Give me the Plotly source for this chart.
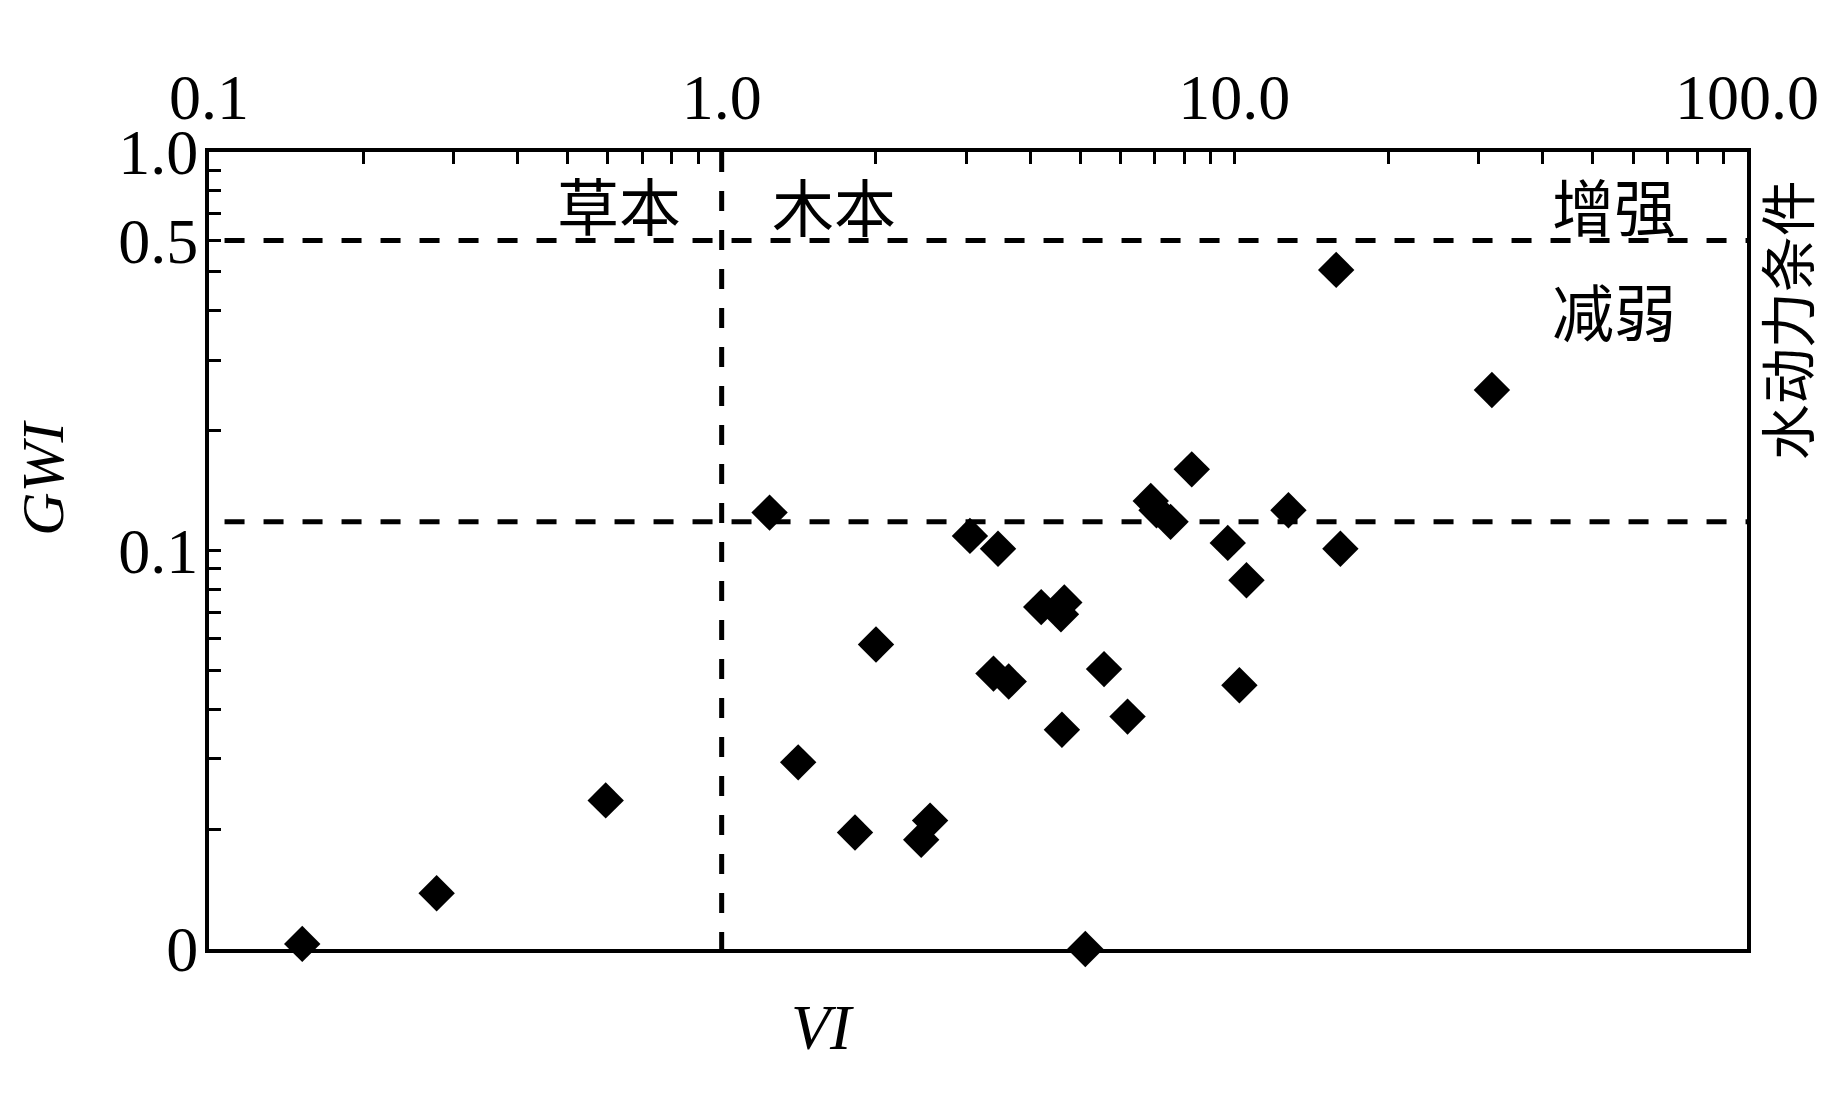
import plotly.graph_objects as go

# ---- data ----
vi = [0.152, 0.278, 0.594, 1.24, 1.41, 1.82, 2.00, 2.45, 2.55, 3.05, 3.46, 3.39, 3.63,
      4.20, 4.66, 4.59, 4.61, 5.12, 5.57, 6.19, 6.87, 7.05, 7.51, 8.26, 9.71, 10.23,
      10.56, 12.75, 15.8, 16.1, 31.8]
gwi = [0.0103, 0.0138, 0.0236, 0.1245, 0.0294, 0.0196, 0.0581, 0.0188, 0.0210, 0.1088,
       0.101, 0.0491, 0.0469, 0.0721, 0.0741, 0.0692, 0.0355, 0.0100, 0.0504, 0.0383,
       0.1331, 0.1262, 0.118, 0.1598, 0.1045, 0.0459, 0.0842, 0.1262, 0.506, 0.101, 0.2528]

# reference (threshold) lines
vi_divider = 1.0
gwi_upper = 0.6      # drawn line labelled "0.5" on the axis
gwi_lower = 0.118

x_tick_vals = [0.1, 1.0, 10.0, 100.0]
x_tick_text = ["0.1", "1.0", "10.0", "100.0"]
x_minor_vals = [m * d for d in (0.1, 1.0, 10.0) for m in range(2, 10)]

y_tick_vals = [0.01, 0.1, 0.6, 1.0]
y_tick_text = ["0", "0.1", "0.5", "1.0"]
y_minor_vals = [m * d for d in (0.01, 0.1) for m in range(2, 10)]

SERIF = "Liberation Serif, Times New Roman, serif"
CJK = "Noto Sans CJK SC"
DASH = "20px,19px"

fig = go.Figure()

# dashed reference lines
for xs, ys in (([0.09, 120], [gwi_upper, gwi_upper]),
               ([0.09, 120], [gwi_lower, gwi_lower]),
               ([vi_divider, vi_divider], [1.0, 0.01])):
    fig.add_trace(go.Scatter(x=xs, y=ys, mode="lines",
                             line=dict(color="black", width=5, dash=DASH),
                             hoverinfo="skip", showlegend=False))

# data points
fig.add_trace(go.Scatter(x=vi, y=gwi, mode="markers", cliponaxis=False,
                         marker=dict(symbol="diamond", size=28, color="black",
                                     line=dict(width=0)),
                         showlegend=False))

axis_common = dict(
    showline=True, linecolor="black", linewidth=4, mirror=True,
    showgrid=False, zeroline=False,
    ticks="inside", ticklen=12, tickwidth=3, tickcolor="black",
    tickfont=dict(family=SERIF, size=64, color="black"),
)

fig.update_xaxes(type="log", range=[-1, 2], side="top",
                 tickmode="array", tickvals=x_tick_vals, ticktext=x_tick_text,
                 ticklabelstandoff=3,
                 minor=dict(tickvals=x_minor_vals, ticks="inside", ticklen=12,
                            tickwidth=3, tickcolor="black", showgrid=False),
                 **axis_common)
fig.update_yaxes(type="log", range=[-2, 0],
                 tickmode="array", tickvals=y_tick_vals, ticktext=y_tick_text,
                 ticklabelstandoff=-6,
                 minor=dict(tickvals=y_minor_vals, ticks="inside", ticklen=12,
                            tickwidth=3, tickcolor="black", showgrid=False),
                 **axis_common)

ann = []
def txt(text, x, y, font, size=62, angle=0):
    ann.append(dict(text=text, x=x, y=y, xref="paper", yref="paper",
                    xanchor="center", yanchor="middle", showarrow=False,
                    textangle=angle, font=dict(family=font, size=size, color="black")))

txt("草本", 0.2665, 0.935, CJK)
txt("木本", 0.4064, 0.934, CJK)
txt("增强", 0.9135, 0.934, CJK)
txt("减弱", 0.9135, 0.802, CJK)
txt("水动力条件", 1.0241, 0.789, CJK, size=56, angle=-90)
txt("<i>VI</i>", 0.3992, -0.098, SERIF, size=64)
txt("<i>GWI</i>", -0.108, 0.591, SERIF, size=60, angle=-90)

# the page body adds an 8px margin, so the figure is 8px smaller and margins shifted
fig.update_layout(
    width=1822, height=1110,
    margin=dict(l=201, r=83, t=144, b=169),
    paper_bgcolor="white", plot_bgcolor="white",
    annotations=ann, showlegend=False,
)

fig.write_html("out.html")
